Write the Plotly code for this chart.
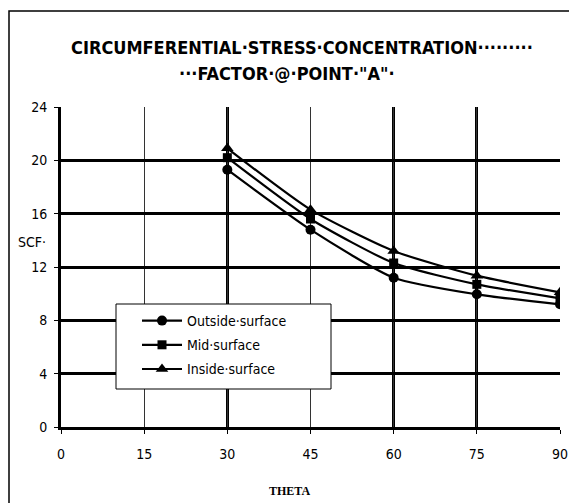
import plotly.graph_objects as go

theta = [30, 45, 60, 75, 90]
outside = [19.3, 14.8, 11.2, 9.95, 9.2]
mid = [20.2, 15.6, 12.3, 10.7, 9.65]
inside = [20.9, 16.3, 13.2, 11.35, 10.1]
series_names = ["Outside·surface", "Mid·surface", "Inside·surface"]
x_ticks = [0, 15, 30, 45, 60, 75, 90]
x_heavy_grid = [30, 60, 75]
y_ticks = [0, 4, 8, 12, 16, 20, 24]

FONT = "Liberation Sans Narrow, Arial Narrow, DejaVu Sans Condensed, sans-serif"

# page pixel -> plot-area paper fraction (plot area: x 60..559, y 107..427)
def px(x):
    return (x - 60) / 499

def py(y):
    return (427 - y) / 320

fig = go.Figure()
for i, (name, vals, sym, sz) in enumerate(zip(series_names, [outside, mid, inside],
                                          ["circle", "square", "triangle-up"], [10, 9, 11])):
    fig.add_trace(go.Scatter(
        x=theta, y=vals, name=name, mode="lines+markers", legendgroup=f"g{i}",
        line=dict(color="black", width=2.2, shape="spline", smoothing=0.6),
        marker=dict(symbol=sym, size=sz, color="black"),
    ))

fig.update_layout(
    width=578, height=503,
    margin=dict(l=61, r=10, t=107, b=76),
    paper_bgcolor="white", plot_bgcolor="white",
    showlegend=True,
    legend=dict(
        x=px(136), y=py(305), xanchor="left", yanchor="top",
        bgcolor="rgba(0,0,0,0)", borderwidth=0,
        font=dict(family=FONT, size=14, color="black"),
        itemwidth=40, tracegroupgap=3,
    ),
    font=dict(family=FONT, size=14, color="black"),
    xaxis=dict(
        range=[0, 90], tickvals=x_ticks, ticktext=[str(v) for v in x_ticks],
        showgrid=True, gridcolor="#333333", gridwidth=1.2,
        minor=dict(tickvals=x_heavy_grid, showgrid=True, gridcolor="black",
                   gridwidth=2.5, ticks=""),
        showline=True, linecolor="black", linewidth=3, mirror=False,
        ticks="outside", ticklen=4, tickcolor="black", tickwidth=1,
        ticklabelstandoff=8,
        tickfont=dict(family=FONT, size=14), zeroline=False,
    ),
    yaxis=dict(
        range=[0, 24], tickvals=y_ticks, ticktext=[str(v) for v in y_ticks],
        showgrid=True, gridcolor="black", gridwidth=2.5,
        showline=True, linecolor="black", linewidth=3,
        ticks="outside", ticklen=4, tickcolor="black", tickwidth=1,
        ticklabelstandoff=4,
        tickfont=dict(family=FONT, size=14), zeroline=False,
    ),
    shapes=[
        dict(type="rect", xref="paper", yref="paper",
             x0=px(8), x1=px(600), y0=py(540), y1=py(11),
             line=dict(color="black", width=1.5), fillcolor="rgba(0,0,0,0)", layer="below"),
        dict(type="rect", xref="paper", yref="paper",
             x0=px(115), x1=px(330), y0=py(389), y1=py(304),
             line=dict(color="black", width=1), fillcolor="white", layer="above"),
    ],
    annotations=[
        dict(text="<b>CIRCUMFERENTIAL·STRESS·CONCENTRATION·········</b>",
             xref="paper", yref="paper", x=px(301), y=py(47),
             xanchor="center", yanchor="middle", showarrow=False,
             font=dict(family=FONT, size=18, color="black")),
        dict(text="<b>···FACTOR·@·POINT·\"A\"·</b>",
             xref="paper", yref="paper", x=px(286), y=py(73),
             xanchor="center", yanchor="middle", showarrow=False,
             font=dict(family=FONT, size=18, color="black")),
        dict(text="SCF·", xref="paper", yref="paper",
             x=px(31), y=py(242),
             xanchor="center", yanchor="middle", showarrow=False,
             font=dict(family=FONT, size=14, color="black")),
        dict(text="<b>THETA</b>", xref="paper", yref="paper",
             x=px(288), y=py(491),
             xanchor="center", yanchor="middle", showarrow=False,
             font=dict(family="Liberation Serif, Times New Roman, serif", size=12, color="black")),
    ],
)

fig.write_html(
    "out.html",
    config={"displayModeBar": False},
    post_script="document.body.style.margin='0';document.body.style.overflow='hidden';"
                "document.documentElement.style.overflow='hidden';",
)
